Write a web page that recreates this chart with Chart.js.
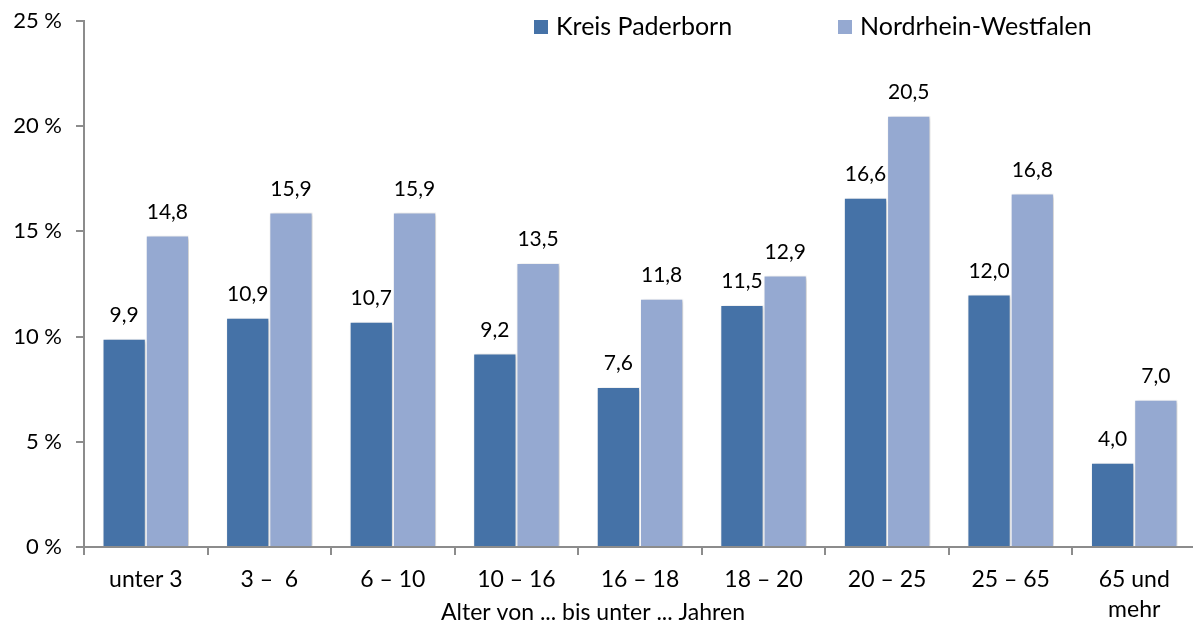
<!DOCTYPE html>
<html>
<head>
<meta charset="utf-8">
<script src="https://cdn.jsdelivr.net/npm/chart.js@4"></script>
<style>
  html, body { margin: 0; padding: 0; background: #fff; overflow: hidden; }
  #wrap { width: 1193px; height: 628px; overflow: hidden; }
</style>
</head>
<body>
<div id="wrap"><canvas id="chart" width="1196" height="628"></canvas></div>
<script>
// Altersgruppen (x-Achse)
const categories = [
  "unter 3", "3 –  6", "6 – 10", "10 – 16", "16 – 18",
  "18 – 20", "20 – 25", "25 – 65", ["65 und", "mehr"]
];
const seriesNames = ["Kreis Paderborn", "Nordrhein-Westfalen"];
const paderborn = [9.9, 10.9, 10.7, 9.2, 7.6, 11.5, 16.6, 12.0, 4.0];
const nrw = [14.8, 15.9, 15.9, 13.5, 11.8, 12.9, 20.5, 16.8, 7.0];
const yTicks = [0, 5, 10, 15, 20, 25];
const axisTitle = "Alter von ... bis unter ... Jahren";

const colors = ["#4572a7", "#95a9d1"];
const FONT = "Lato, 'Open Sans', sans-serif";

// soft shadow behind bars
const shadowPlugin = {
  id: "barShadow",
  beforeDatasetsDraw(chart) {
    const ctx = chart.ctx;
    ctx.save();
    ctx.shadowColor = "rgba(0,0,0,0.22)";
    ctx.shadowBlur = 4;
    ctx.shadowOffsetX = 2;
    ctx.shadowOffsetY = 1;
  },
  afterDatasetsDraw(chart) {
    chart.ctx.restore();
  }
};

// value labels above bars (German decimal comma)
const valuePlugin = {
  id: "valueLabels",
  afterDatasetsDraw(chart) {
    const ctx = chart.ctx;
    ctx.save();
    ctx.font = "21px " + FONT;
    ctx.fillStyle = "#000";
    ctx.textAlign = "center";
    ctx.textBaseline = "bottom";
    chart.data.datasets.forEach((ds, i) => {
      chart.getDatasetMeta(i).data.forEach((bar, j) => {
        const txt = ds.data[j].toFixed(1).replace(".", ",");
        ctx.fillText(txt, bar.x, bar.y - 13);
      });
    });
    ctx.restore();
  }
};

// legend inside the plot area (top right) + x axis title left of centre, as in the original
const legendPlugin = {
  id: "insideLegend",
  afterDraw(chart) {
    const ctx = chart.ctx;
    const xs = [534, 838];
    ctx.save();
    ctx.font = "25px " + FONT;
    ctx.textBaseline = "middle";
    ctx.textAlign = "left";
    chart.data.datasets.forEach((ds, i) => {
      ctx.fillStyle = ds.backgroundColor;
      ctx.fillRect(xs[i], 20, 14, 14);
      ctx.fillStyle = "#000";
      ctx.fillText(ds.label, xs[i] + 22, 27);
    });
    ctx.font = "23px " + FONT;
    ctx.textAlign = "center";
    ctx.fillText(axisTitle, 593, 613);
    ctx.restore();
  }
};

new Chart(document.getElementById("chart").getContext("2d"), {
  type: "bar",
  data: {
    labels: categories,
    datasets: [
      { label: seriesNames[0], data: paderborn, backgroundColor: colors[0] },
      { label: seriesNames[1], data: nrw, backgroundColor: colors[1] }
    ].map((d) => ({
      ...d,
      borderColor: "#ffffff",
      borderWidth: 1,
      categoryPercentage: 0.70,
      barPercentage: 1.0
    }))
  },
  options: {
    responsive: false,
    animation: false,
    layout: { padding: { top: 21, right: 0, left: 0, bottom: 0 } },
    plugins: {
      legend: { display: false },
      tooltip: { enabled: false }
    },
    scales: {
      x: {
        grid: {
          drawOnChartArea: false,
          offset: true,
          color: "#8c8c8c",
          lineWidth: 2,
          tickLength: 8
        },
        border: { color: "#8c8c8c", width: 2 },
        ticks: {
          color: "#000",
          font: { family: FONT, size: 23, lineHeight: 1.3 },
          padding: 10,
          maxRotation: 0,
          autoSkip: false
        },
        afterFit(scale) {
          scale.height = 81;
          scale.paddingLeft = 0;
          scale.paddingRight = 0;
        }
      },
      y: {
        min: 0,
        max: 25,
        afterBuildTicks(scale) {
          scale.ticks = yTicks.map((v) => ({ value: v }));
        },
        grid: {
          drawOnChartArea: false,
          color: "#8c8c8c",
          lineWidth: 2,
          tickLength: 8
        },
        border: { color: "#8c8c8c", width: 2 },
        ticks: {
          color: "#000",
          font: { family: FONT, size: 22 },
          padding: 14,
          callback: (v) => v + " %"
        },
        afterFit(scale) {
          scale.width = 84;
          scale.paddingTop = 0;
          scale.paddingBottom = 0;
        }
      }
    }
  },
  plugins: [shadowPlugin, valuePlugin, legendPlugin]
});
</script>
</body>
</html>
